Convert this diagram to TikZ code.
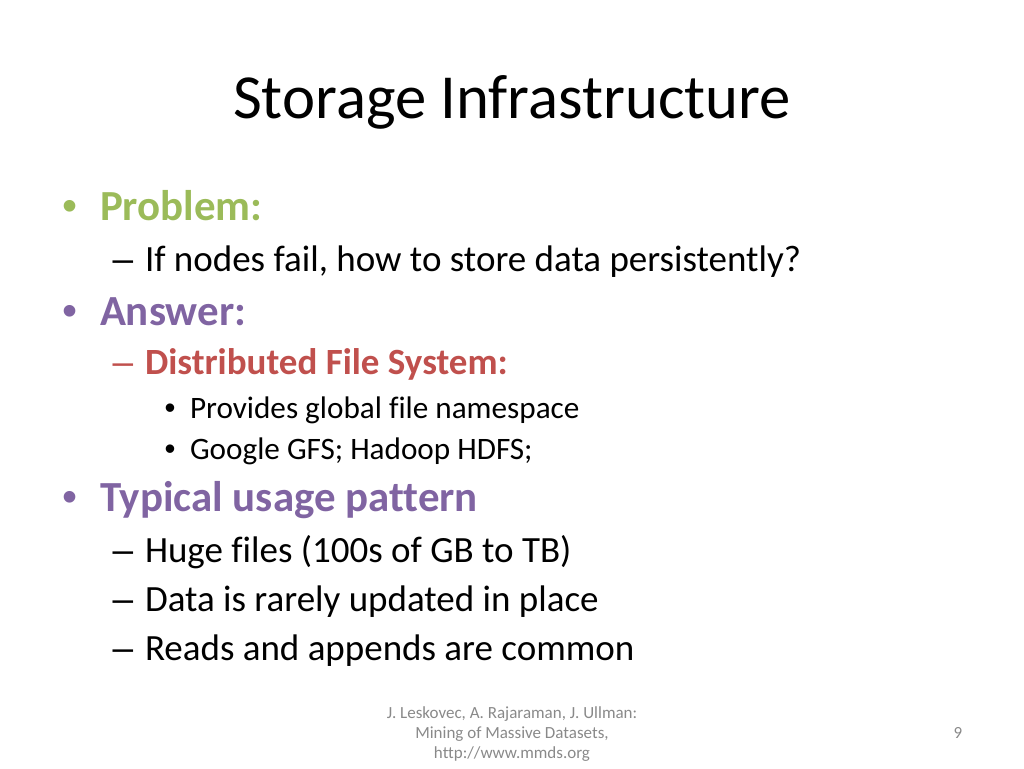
\documentclass[tikz,border=0pt]{standalone}
\usepackage{fontspec}
\setmainfont[Ligatures=NoCommon]{Carlito}
\newfontfamily\bulfont{Liberation Sans}
\definecolor{pgreen}{HTML}{9BBB59}
\definecolor{ppurple}{HTML}{8064A2}
\definecolor{pred}{HTML}{C0504D}
\definecolor{pgray}{HTML}{898989}
\begin{document}
\begin{tikzpicture}[x=1pt,y=-1pt,
  every node/.style={inner sep=0pt,outer sep=0pt,anchor=base west},
  title/.style={font=\fontsize{62.7}{70}\selectfont,anchor=base},
  lone/.style={font=\fontsize{42.9}{50}\selectfont},
  ltwo/.style={font=\fontsize{37}{40}\selectfont},
  lthree/.style={font=\fontsize{31.2}{34}\selectfont},
  mark1/.style={font=\bulfont\fontsize{42.9}{50}\selectfont,anchor=base},
  mark2/.style={font=\bulfont\fontsize{37}{40}\selectfont,anchor=base},
  mark3/.style={font=\bulfont\fontsize{31.2}{34}\selectfont,anchor=base},
  foot/.style={font=\fontsize{17}{20}\selectfont,text=pgray,anchor=base}]
\useasboundingbox (0,0) rectangle (1024,768);
\node[title] (t) at (512,118) {Storage Infrastructure};
\node[mark1,text=pgreen] (b1) at (70,220) {•};
\node[lone,text=pgreen] (p1) at (100,220) {\textbf{Problem:}};
\node[mark2] (d1) at (123,271) {–};
\node[ltwo] (p2) at (145,271) {If nodes fail, how to store data persistently?};
\node[mark1,text=ppurple] (b2) at (70,325) {•};
\node[lone,text=ppurple] (p3) at (100,325) {\textbf{Answer:}};
\node[mark2,text=pred] (d2) at (123,374) {–};
\node[ltwo,text=pred] (p4) at (145,374) {\textbf{Distributed File System:}};
\node[mark3] (b3) at (170,418) {•};
\node[lthree] (p5) at (190,418) {Provides global file namespace};
\node[mark3] (b4) at (170,459) {•};
\node[lthree] (p6) at (190,459) {Google GFS; Hadoop HDFS;};
\node[mark1,text=ppurple] (b5) at (70,511) {•};
\node[lone,text=ppurple] (p7) at (100,511) {\textbf{Typical usage pattern}};
\node[mark2] (d3) at (123,562) {–};
\node[ltwo] (p8) at (145,562) {Huge files (100s of GB to TB)};
\node[mark2] (d4) at (123,611) {–};
\node[ltwo] (p9) at (145,611) {Data is rarely updated in place};
\node[mark2] (d5) at (123,660) {–};
\node[ltwo] (p10) at (145,660) {Reads and appends are common};
\node[foot] (f1) at (512,718) {J. Leskovec, A. Rajaraman, J. Ullman:};
\node[foot] (f2) at (512,738) {Mining of Massive Datasets,};
\node[foot] (f3) at (512,758) {http://www.mmds.org};
\node[foot] (f4) at (958,738) {9};
\end{tikzpicture}
\end{document}
